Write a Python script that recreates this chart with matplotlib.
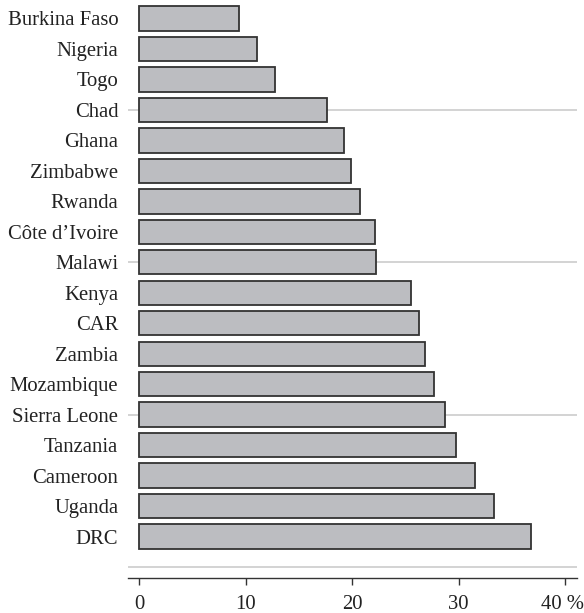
import matplotlib
matplotlib.use("Agg")
import matplotlib.pyplot as plt
from matplotlib.transforms import ScaledTranslation

countries = ["Burkina Faso", "Nigeria", "Togo", "Chad", "Ghana", "Zimbabwe",
             "Rwanda", "Côte d’Ivoire", "Malawi", "Kenya", "CAR", "Zambia",
             "Mozambique", "Sierra Leone", "Tanzania", "Cameroon", "Uganda", "DRC"]
values = [9.4, 11.1, 12.8, 17.6, 19.2, 19.9, 20.75, 22.1, 22.2, 25.5, 26.3, 26.8,
          27.7, 28.7, 29.7, 31.5, 33.3, 36.8]
xticks = [0, 10, 20, 30, 40]
xticklabels = ["0", "10", "20", "30", "40 %"]
grid_positions = [3, 8, 13, 18]

plt.rcParams['font.family'] = ['Liberation Serif', 'DejaVu Serif']

fig = plt.figure(figsize=(5.84, 6.13), dpi=100)
ax = fig.add_axes([128/584, 35/613, (577-128)/584, 578/613])

ypos = list(range(len(countries)))
for g in grid_positions:
    ax.axhline(g, color="#cccccc", lw=1.2, zorder=0)

ax.barh(ypos, values, height=0.8, color="#bcbdc1", edgecolor="#333333",
        linewidth=1.3, zorder=2)

ax.set_xlim(-1.03, 41.1)
ax.set_ylim(18.36, -0.607)
ax.set_yticks(ypos)
ax.set_yticklabels(countries, fontsize=14.9, color="#222222")
ax.tick_params(axis="y", length=0, pad=7)
ax.set_xticks(xticks)
ax.set_xticklabels(xticklabels, fontsize=14.9, color="#222222")
ax.tick_params(axis="x", direction="out", length=5, width=1, color="#333333", pad=7)

last = ax.get_xticklabels()[-1]
last.set_transform(last.get_transform() + ScaledTranslation(-3/100, 0, fig.dpi_scale_trans))

for s in ["top", "right", "left"]:
    ax.spines[s].set_visible(False)
ax.spines["bottom"].set_color("#333333")
ax.spines["bottom"].set_linewidth(1)

fig.savefig("out.png", dpi=100)
